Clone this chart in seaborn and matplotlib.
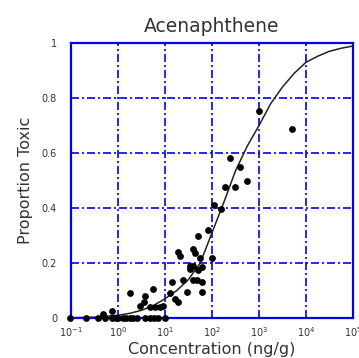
import matplotlib
matplotlib.use("Agg")
import matplotlib.pyplot as plt
import seaborn as sns
import numpy as np
import pandas as pd

# Observed points: concentration (ng/g) and proportion toxic
conc = [0.095, 0.21, 0.38, 0.52, 0.74, 0.89, 1.02, 1.3, 1.5, 1.8, 2.1, 2.5, 3.7, 4.8, 5.8, 7.1, 10.0,
        0.49, 0.74, 1.8, 3.0, 3.5, 3.7, 5.5, 4.8, 6.2, 7.8, 8.9,
        12.6, 13.8, 16.2, 19.0, 19.0, 21.0, 24.5, 29.0, 34.0, 34.0, 40.0, 40.0, 40.0, 44.0, 47.0,
        51.0, 51.0, 55.0, 60.0, 60.0, 60.0, 83.0, 98.0,
        112.0, 158.0, 190.0, 309.0, 240.0, 398.0, 550.0, 980.0, 5000.0]
prop = [0, 0, 0, 0, 0, 0, 0, 0, 0, 0, 0, 0, 0, 0, 0, 0, 0,
        0.015, 0.025, 0.092, 0.045, 0.06, 0.08, 0.105, 0.04, 0.04, 0.04, 0.045,
        0.09, 0.13, 0.07, 0.06, 0.24, 0.225, 0.14, 0.096, 0.18, 0.19, 0.25, 0.19, 0.14, 0.235, 0.14,
        0.30, 0.175, 0.22, 0.187, 0.13, 0.096, 0.32, 0.22,
        0.41, 0.395, 0.477, 0.477, 0.583, 0.55, 0.50, 0.753, 0.686]

# Fitted curve
curve_conc = [0.1, 0.32, 1.0, 1.78, 3.16, 5.62, 10.0, 17.8, 31.6, 56.2, 100.0, 178.0, 316.0,
              562.0, 1000.0, 1780.0, 3160.0, 5620.0, 10000.0, 17800.0, 31600.0, 56200.0, 100000.0]
curve_prop = [0.001, 0.003, 0.01, 0.017, 0.028, 0.045, 0.07, 0.10, 0.14, 0.20, 0.31, 0.42, 0.535,
              0.625, 0.70, 0.78, 0.84, 0.89, 0.93, 0.952, 0.97, 0.981, 0.989]

x_ticks = [0.1, 1, 10, 100, 1000, 10000, 100000]
x_tick_labels = [r"$10^{-1}$", r"$10^{0}$", r"$10^{1}$", r"$10^{2}$", r"$10^{3}$", r"$10^{4}$", r"$10^{5}$"]
y_ticks = [0, 0.2, 0.4, 0.6, 0.8, 1.0]
y_tick_labels = ["0", "0.2", "0.4", "0.6", "0.8", "1"]

sns.set_style("white")
plt.rcParams["font.family"] = ["DejaVu Sans"]
plt.rcParams["mathtext.fontset"] = "dejavusans"

fig = plt.figure(figsize=(3.59, 3.58), dpi=100)
ax = fig.add_axes([71 / 359, 1 - 318 / 358, 282 / 359, 275 / 358])

pts = pd.DataFrame({"conc": conc, "prop": prop})
crv = pd.DataFrame({"conc": curve_conc, "prop": curve_prop})

sns.lineplot(data=crv, x="conc", y="prop", ax=ax, color="#222222", linewidth=1.1, zorder=3)
sns.scatterplot(data=pts, x="conc", y="prop", ax=ax, color="black", s=24, edgecolor="black",
                linewidth=0, zorder=4, clip_on=False)

ax.set_xscale("log")
ax.set_xlim(0.1, 100000)
ax.set_ylim(0, 1)
ax.set_xticks(x_ticks)
ax.set_xticklabels(x_tick_labels)
ax.minorticks_off()
ax.set_yticks(y_ticks)
ax.set_yticklabels(y_tick_labels)
ax.tick_params(axis="both", length=0, labelsize=7, colors="#333333")
ax.tick_params(axis="x", pad=5)
ax.tick_params(axis="y", pad=10)

ax.grid(True, color="#0000ee", linestyle=(0, (4.8, 1.8, 1.2, 1.8)), linewidth=1.2)
ax.set_axisbelow(True)
for sp in ax.spines.values():
    sp.set_color("#0000ee")
    sp.set_linewidth(1.6)
    sp.set_zorder(2.5)

ax.set_xlabel("Concentration (ng/g)", fontsize=11.5, color="#333333", labelpad=2)
ax.set_ylabel("Proportion Toxic", fontsize=11.5, color="#333333", labelpad=6)
ax.set_title("Acenaphthene", fontsize=13.5, color="#333333", pad=8)

fig.savefig("out.png", dpi=100)
